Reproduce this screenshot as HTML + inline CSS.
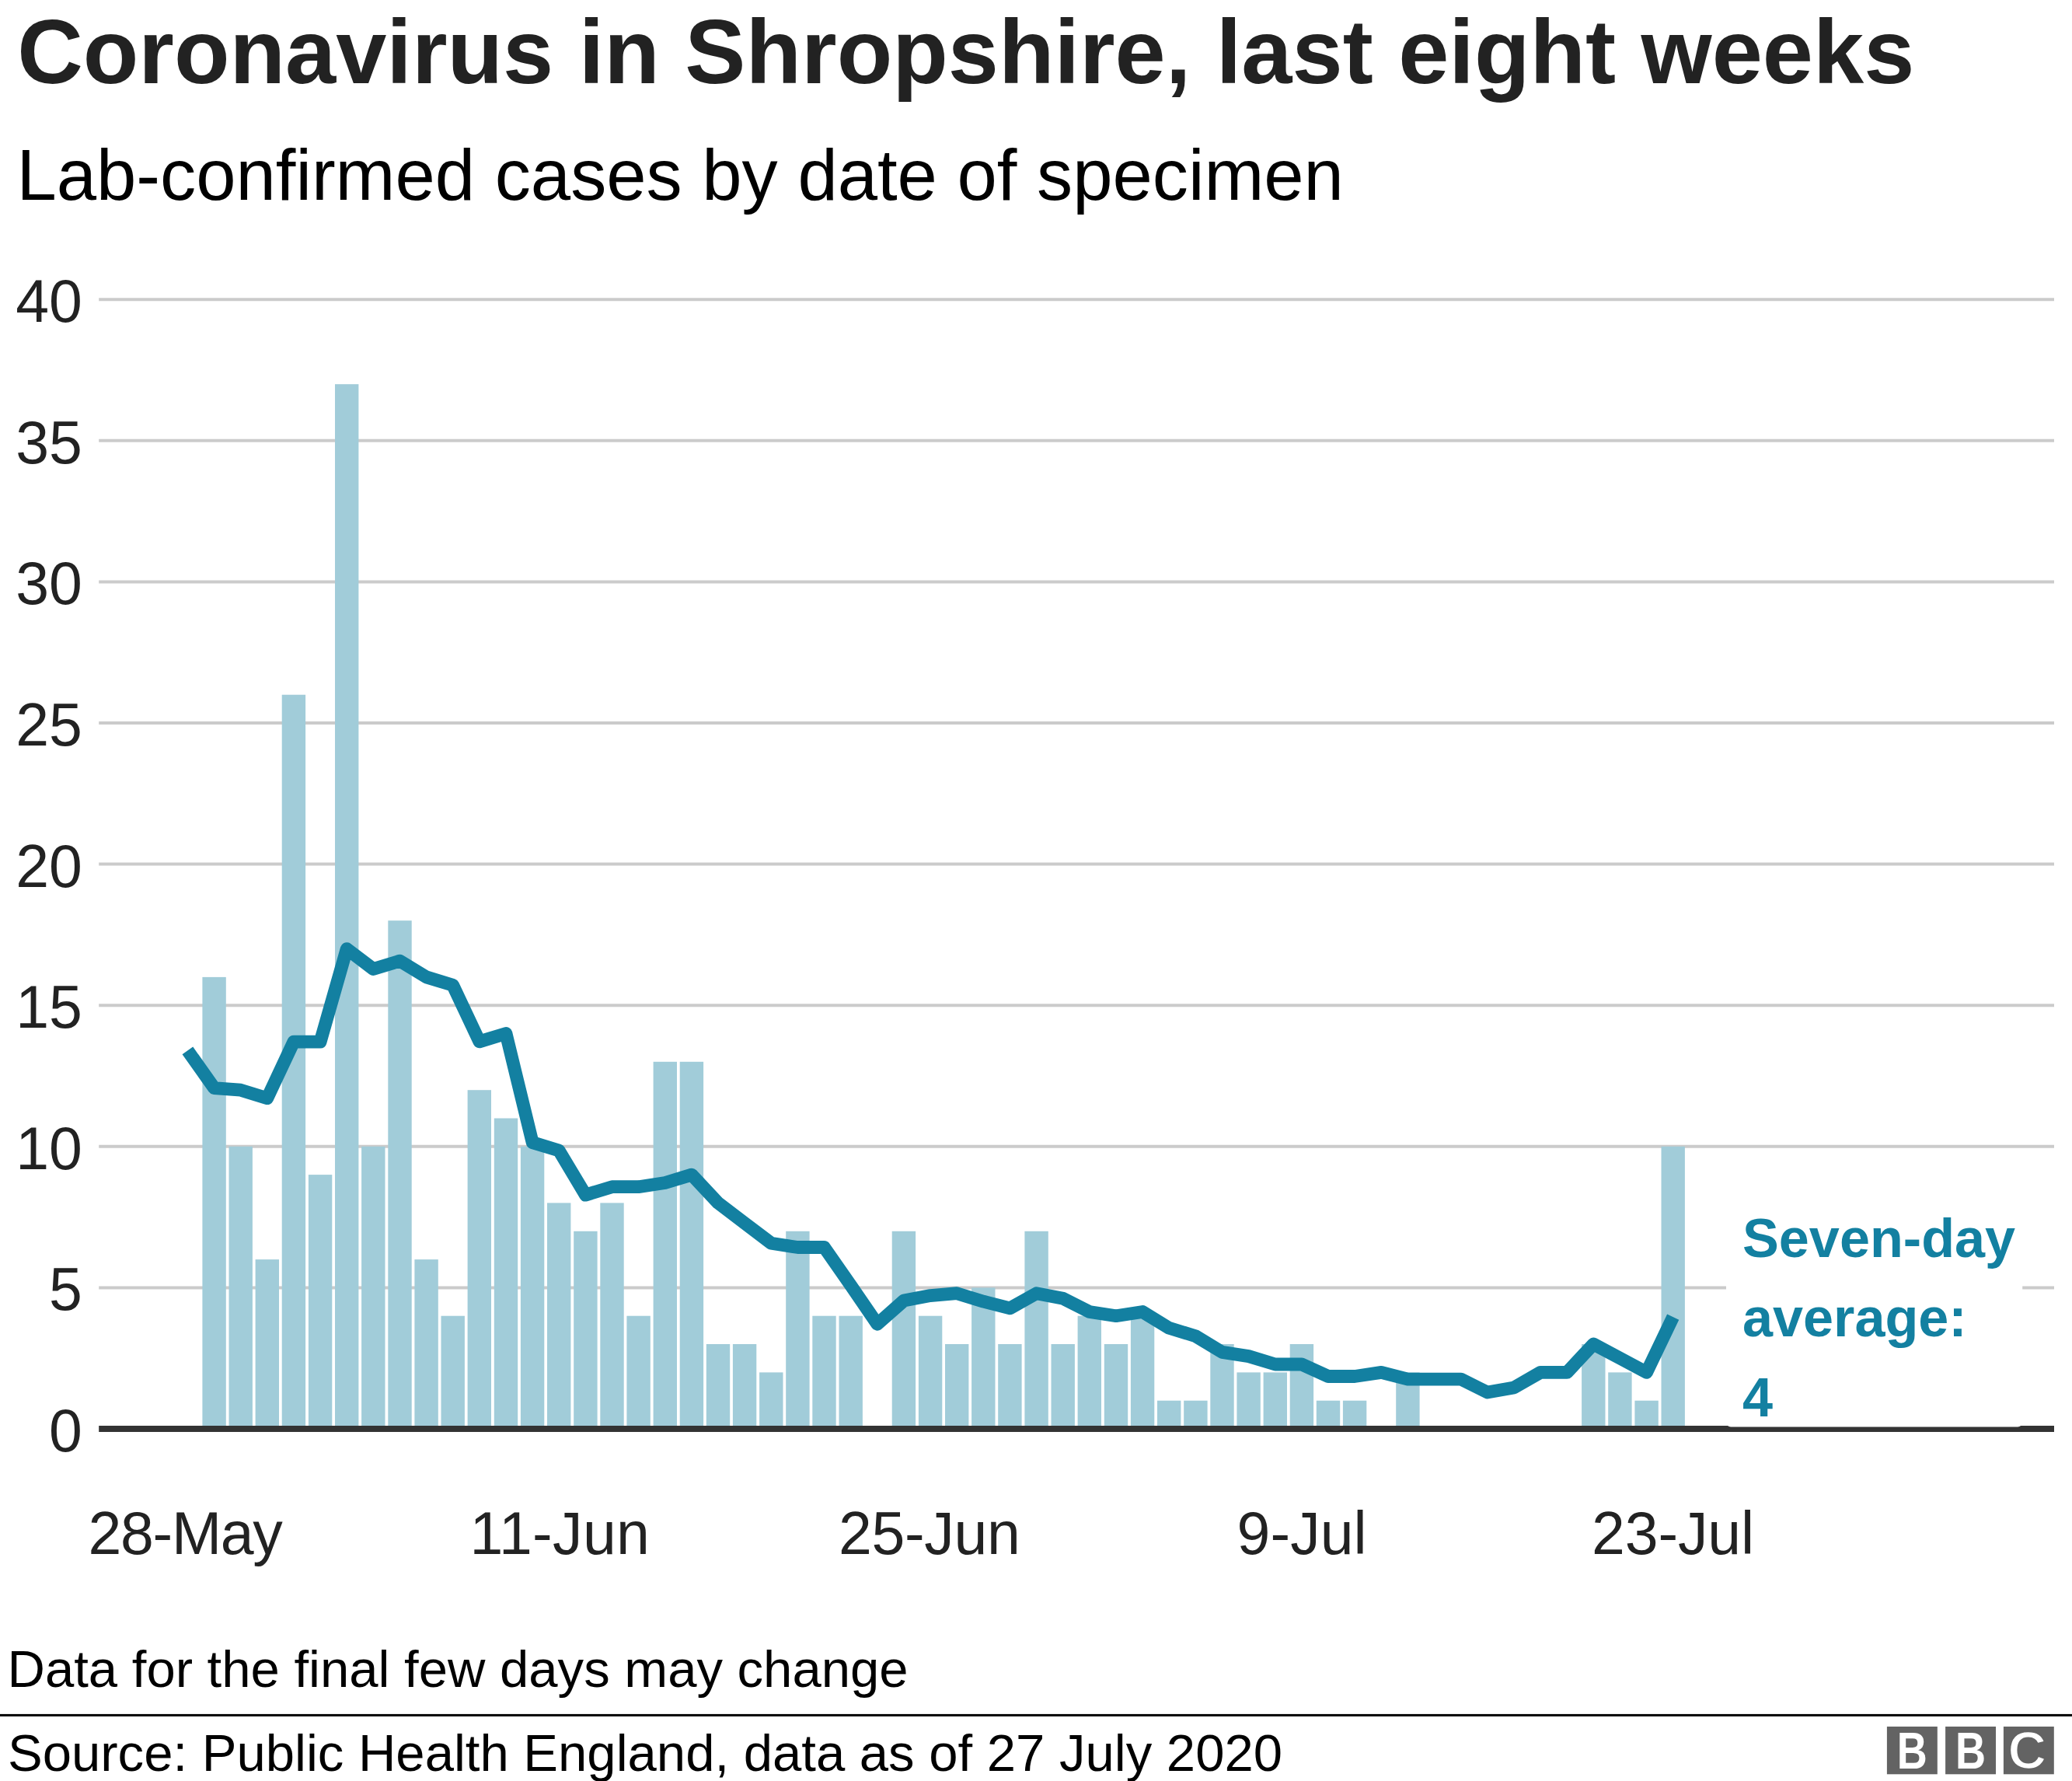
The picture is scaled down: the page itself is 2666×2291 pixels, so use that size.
<!DOCTYPE html>
<html lang="en">
<head>
<meta charset="utf-8">
<title>Coronavirus in Shropshire, last eight weeks</title>
<style>
html,body{margin:0;padding:0;background:#fff;}
body{width:2666px;height:2291px;overflow:hidden;}
svg{display:block;}
text{font-family:"Liberation Sans",Arial,Helvetica,sans-serif;}
.t{font-weight:bold;font-size:117.15px;fill:#222;}
.s{font-size:92.25px;fill:#000;}
.ax{font-size:77px;fill:#222;}
.ft{font-size:67.05px;fill:#000;}
.lb{font-weight:bold;font-size:70.2px;fill:#1380A1;}
.bbc{font-weight:bold;font-size:66.7px;fill:#fff;}
</style>
</head>
<body>
<svg width="2666" height="2291" viewBox="0 0 2666 2291">
<rect width="2666" height="2291" fill="#fff"/>
<text class="t" transform="translate(22.2,107.3) scale(1,1.000)">Coronavirus in Shropshire, last eight weeks</text>
<text class="s" transform="translate(21.4,257.2) scale(1,1.000)">Lab-confirmed cases by date of specimen</text>
<g stroke="#cbcbcb" stroke-width="4">
<line x1="127.2" x2="2643" y1="1656.4" y2="1656.4"/>
<line x1="127.2" x2="2643" y1="1474.8" y2="1474.8"/>
<line x1="127.2" x2="2643" y1="1293.2" y2="1293.2"/>
<line x1="127.2" x2="2643" y1="1111.6" y2="1111.6"/>
<line x1="127.2" x2="2643" y1="930.0" y2="930.0"/>
<line x1="127.2" x2="2643" y1="748.4" y2="748.4"/>
<line x1="127.2" x2="2643" y1="566.8" y2="566.8"/>
<line x1="127.2" x2="2643" y1="385.2" y2="385.2"/>
</g>
<text class="ax" text-anchor="end" transform="translate(105.8,1866.9) scale(1,1.000)">0</text>
<text class="ax" text-anchor="end" transform="translate(105.8,1685.3) scale(1,1.000)">5</text>
<text class="ax" text-anchor="end" transform="translate(105.8,1503.7) scale(1,1.000)">10</text>
<text class="ax" text-anchor="end" transform="translate(105.8,1322.1) scale(1,1.000)">15</text>
<text class="ax" text-anchor="end" transform="translate(105.8,1140.5) scale(1,1.000)">20</text>
<text class="ax" text-anchor="end" transform="translate(105.8,958.9) scale(1,1.000)">25</text>
<text class="ax" text-anchor="end" transform="translate(105.8,777.3) scale(1,1.000)">30</text>
<text class="ax" text-anchor="end" transform="translate(105.8,595.7) scale(1,1.000)">35</text>
<text class="ax" text-anchor="end" transform="translate(105.8,414.1) scale(1,1.000)">40</text>
<g fill="#A1CCD9">
<rect x="260.4" y="1256.9" width="30.4" height="578.1"/>
<rect x="294.5" y="1474.8" width="30.4" height="360.2"/>
<rect x="328.6" y="1620.1" width="30.4" height="214.9"/>
<rect x="362.7" y="893.7" width="30.4" height="941.3"/>
<rect x="396.9" y="1511.1" width="30.4" height="323.9"/>
<rect x="431.0" y="494.2" width="30.4" height="1340.8"/>
<rect x="465.1" y="1474.8" width="30.4" height="360.2"/>
<rect x="499.3" y="1184.2" width="30.4" height="650.8"/>
<rect x="533.4" y="1620.1" width="30.4" height="214.9"/>
<rect x="567.5" y="1692.7" width="30.4" height="142.3"/>
<rect x="601.6" y="1402.2" width="30.4" height="432.8"/>
<rect x="635.8" y="1438.5" width="30.4" height="396.5"/>
<rect x="669.9" y="1474.8" width="30.4" height="360.2"/>
<rect x="704.0" y="1547.4" width="30.4" height="287.6"/>
<rect x="738.2" y="1583.8" width="30.4" height="251.2"/>
<rect x="772.3" y="1547.4" width="30.4" height="287.6"/>
<rect x="806.4" y="1692.7" width="30.4" height="142.3"/>
<rect x="840.6" y="1365.8" width="30.4" height="469.2"/>
<rect x="874.7" y="1365.8" width="30.4" height="469.2"/>
<rect x="908.8" y="1729.0" width="30.4" height="106.0"/>
<rect x="942.9" y="1729.0" width="30.4" height="106.0"/>
<rect x="977.1" y="1765.4" width="30.4" height="69.6"/>
<rect x="1011.2" y="1583.8" width="30.4" height="251.2"/>
<rect x="1045.3" y="1692.7" width="30.4" height="142.3"/>
<rect x="1079.5" y="1692.7" width="30.4" height="142.3"/>
<rect x="1147.7" y="1583.8" width="30.4" height="251.2"/>
<rect x="1181.9" y="1692.7" width="30.4" height="142.3"/>
<rect x="1216.0" y="1729.0" width="30.4" height="106.0"/>
<rect x="1250.1" y="1656.4" width="30.4" height="178.6"/>
<rect x="1284.2" y="1729.0" width="30.4" height="106.0"/>
<rect x="1318.4" y="1583.8" width="30.4" height="251.2"/>
<rect x="1352.5" y="1729.0" width="30.4" height="106.0"/>
<rect x="1386.6" y="1692.7" width="30.4" height="142.3"/>
<rect x="1420.8" y="1729.0" width="30.4" height="106.0"/>
<rect x="1454.9" y="1692.7" width="30.4" height="142.3"/>
<rect x="1489.0" y="1801.7" width="30.4" height="33.3"/>
<rect x="1523.2" y="1801.7" width="30.4" height="33.3"/>
<rect x="1557.3" y="1729.0" width="30.4" height="106.0"/>
<rect x="1591.4" y="1765.4" width="30.4" height="69.6"/>
<rect x="1625.6" y="1765.4" width="30.4" height="69.6"/>
<rect x="1659.7" y="1729.0" width="30.4" height="106.0"/>
<rect x="1693.8" y="1801.7" width="30.4" height="33.3"/>
<rect x="1727.9" y="1801.7" width="30.4" height="33.3"/>
<rect x="1796.2" y="1765.4" width="30.4" height="69.6"/>
<rect x="2035.1" y="1729.0" width="30.4" height="106.0"/>
<rect x="2069.2" y="1765.4" width="30.4" height="69.6"/>
<rect x="2103.4" y="1801.7" width="30.4" height="33.3"/>
<rect x="2137.5" y="1474.8" width="30.4" height="360.2"/>
</g>
<rect x="127.2" y="1834.0" width="2515.8" height="8.0" fill="#333"/>
<polyline points="241.4,1351.3 275.6,1399.6 309.7,1402.2 343.8,1412.7 377.9,1340.1 412.1,1340.1 446.2,1220.6 480.3,1246.5 514.5,1236.1 548.6,1256.9 582.7,1267.3 616.9,1339.9 651.0,1329.5 685.1,1469.6 719.2,1480.0 753.4,1537.1 787.5,1526.7 821.6,1526.7 855.8,1521.5 889.9,1511.1 924.0,1547.4 958.1,1573.4 992.3,1599.3 1026.4,1604.5 1060.5,1604.5 1094.7,1653.5 1128.8,1703.3 1162.9,1673.1 1197.1,1666.6 1231.2,1663.7 1265.3,1674.2 1299.5,1682.9 1333.6,1663.7 1367.7,1670.2 1401.8,1687.5 1436.0,1692.7 1470.1,1687.5 1504.2,1708.3 1538.4,1718.7 1572.5,1739.4 1606.6,1744.6 1640.8,1755.0 1674.9,1755.0 1709.0,1770.5 1743.1,1770.5 1777.3,1765.4 1811.4,1774.1 1845.5,1774.1 1879.7,1774.1 1913.8,1791.1 1947.9,1785.0 1982.1,1765.4 2016.2,1765.4 2050.3,1729.0 2084.4,1747.2 2118.6,1765.4 2152.7,1694.2" fill="none" stroke="#1380A1" stroke-width="16.8" stroke-linejoin="round" stroke-linecap="butt"/>
<rect x="2221" y="1530" width="381.2" height="305.6" rx="6" fill="#fff"/>
<text class="lb" transform="translate(2242.0,1617.3) scale(1,1.000)">Seven-day</text>
<text class="lb" transform="translate(2242.0,1719.4) scale(1,1.000)">average:</text>
<text class="lb" transform="translate(2242.0,1821.6) scale(1,1.000)">4</text>
<text class="ax" transform="translate(113.5,1999.0) scale(1,1.000)" textLength="250.3" lengthAdjust="spacing">28-May</text>
<text class="ax" transform="translate(604.5,1999.0) scale(1,1.000)" textLength="231.4" lengthAdjust="spacing">11-Jun</text>
<text class="ax" transform="translate(1078.9,1999.0) scale(1,1.000)" textLength="234.0" lengthAdjust="spacing">25-Jun</text>
<text class="ax" transform="translate(1591.6,1999.0) scale(1,1.000)" textLength="167.1" lengthAdjust="spacing">9-Jul</text>
<text class="ax" transform="translate(2048.1,1999.0) scale(1,1.000)" textLength="208.9" lengthAdjust="spacing">23-Jul</text>
<text class="ft" transform="translate(9.5,2170.3) scale(1,1.000)">Data for the final few days may change</text>
<rect x="0" y="2204.9" width="2666" height="3" fill="#000"/>
<text class="ft" transform="translate(10.0,2277.6) scale(1,1.000)">Source: Public Health England, data as of 27 July 2020</text>
<rect x="2427.9" y="2221" width="64.9" height="61.3" fill="#636363"/>
<rect x="2503.1" y="2221" width="64.9" height="61.3" fill="#636363"/>
<rect x="2577.9" y="2221" width="64.9" height="61.3" fill="#636363"/>
<text class="bbc" transform="translate(2440.7,2274.5) scale(0.810,1)">B</text>
<text class="bbc" transform="translate(2516.1,2274.5) scale(0.810,1)">B</text>
<text class="bbc" style="font-size:68.6px" stroke="#636363" stroke-width="1.7" transform="translate(2583.5,2275.1)">C</text>
</svg>
</body>
</html>
